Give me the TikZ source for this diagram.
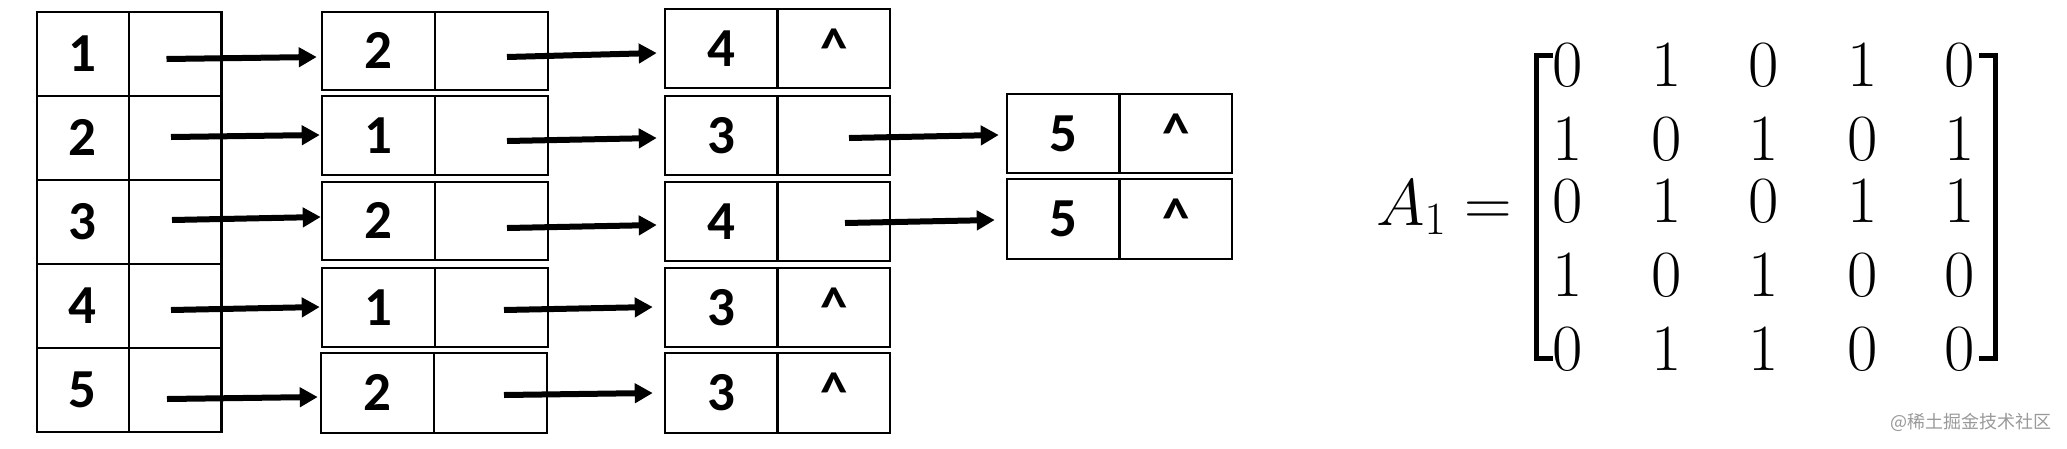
\documentclass[tikz,border=0pt]{standalone}
\usepackage{fix-cm}
\usepackage{fontspec}
\newfontfamily\boxfont{Carlito}
\newfontfamily\wmfont{Noto Sans CJK SC}
\usetikzlibrary{arrows.meta,calc}
\tikzset{
  x=1pt, y=-1pt,
  cellbox/.style={draw, line width=2.5pt, inner sep=0pt},
  cellline/.style={line width=2.5pt},
  celltext/.style={anchor=base, inner sep=0pt, font=\boxfont\bfseries\fontsize{55}{60}\selectfont},
  arr/.style={line width=6pt, -{Triangle[length=18pt,width=19pt]}},
  mtx/.style={anchor=base, inner sep=0pt, font=\fontsize{66}{70}\selectfont},
  brk/.style={line width=5pt, line join=miter},
}
% name, cx, cy, w, h, left text, right text
\newcommand\lbox[7]{%
  \node[cellbox, minimum width=#4pt, minimum height=#5pt] (#1) at (#2,#3) {};
  \draw[cellline] (#1.north) -- (#1.south);
  \node[celltext] at ($(#1.center)+({-#4/4},17.5)$) {#6};
  \node[celltext] at ($(#1.center)+({#4/4},17.5)$) {#7};
}
\begin{document}
\begin{tikzpicture}
\useasboundingbox (0,0) rectangle (2067,448);
% head array
\lbox{a1}{129}{54}{184.5}{84}{1}{}
\lbox{a2}{129}{138}{184.5}{84}{2}{}
\lbox{a3}{129}{222}{184.5}{84}{3}{}
\lbox{a4}{129}{306}{184.5}{84}{4}{}
\lbox{a5}{129}{390}{184.5}{84}{5}{}
% second column
\lbox{b1}{435}{51}{226}{78}{2}{}
\lbox{b2}{435}{135.5}{226}{79}{1}{}
\lbox{b3}{435}{221}{226}{78}{2}{}
\lbox{b4}{435}{307.5}{226}{79}{1}{}
\lbox{b5}{434}{393}{226}{80}{2}{}
% third column
\lbox{c1}{777.5}{48.7}{225}{79}{4}{\textasciicircum}
\lbox{c2}{777.5}{135.5}{225}{79}{3}{}
\lbox{c3}{777.5}{221.5}{225}{79}{4}{}
\lbox{c4}{777.5}{307.5}{225}{79}{3}{\textasciicircum}
\lbox{c5}{777.5}{393}{225}{80}{3}{\textasciicircum}
% fourth column
\lbox{d1}{1119.5}{133.5}{225}{79}{5}{\textasciicircum}
\lbox{d2}{1119.5}{219}{225}{80}{5}{\textasciicircum}
% arrows
\draw[arr] ($(a1.center)+(37.5,5)$) -- ($(b1.west)+(-4,6)$);
\draw[arr] ($(a2.center)+(42,-1)$) -- ($(b2.west)+(-1,-0.5)$);
\draw[arr] ($(a3.center)+(43,-2)$) -- ($(b3.west)+(0,-4)$);
\draw[arr] ($(a4.center)+(42,4)$) -- ($(b4.west)+(-1,-0.5)$);
\draw[arr] ($(a5.center)+(38,9)$) -- ($(b5.west)+(-2,4)$);
\draw[arr] ($(b1.center)+(72,6)$) -- ($(c1.west)+(-7,4.3)$);
\draw[arr] ($(b2.center)+(72,5.5)$) -- ($(c2.west)+(-7,2.5)$);
\draw[arr] ($(b3.center)+(72,7)$) -- ($(c3.west)+(-7,3.5)$);
\draw[arr] ($(b4.center)+(69,2.5)$) -- ($(c4.west)+(-11,-0.5)$);
\draw[arr] ($(b5.center)+(70,2)$) -- ($(c5.west)+(-11,0)$);
\draw[arr] ($(c2.center)+(71.5,2.5)$) -- ($(d1.west)+(-7,1.5)$);
\draw[arr] ($(c3.center)+(67.5,1.5)$) -- ($(d2.west)+(-11,1)$);
% matrix
\node[mtx, anchor=base west] (A) at (1376,225) {$A_1$};
\node[mtx] (eq) at (1488,225) {$=$};
\draw[brk] (1553,55) -- (1536.5,55) -- (1536.5,358) -- (1553,358);
\draw[brk] (1979,55) -- (1995.5,55) -- (1995.5,358) -- (1979,358);
\foreach \r/\yb/\row in {1/86/{0,1,0,1,0}, 2/160/{1,0,1,0,1}, 3/222/{0,1,0,1,1}, 4/296/{1,0,1,0,0}, 5/370/{0,1,1,0,0}}{
  \foreach \v [count=\c] in \row {
    \pgfmathsetmacro{\xx}{{1568,1667,1764,1863,1960}[\c-1]}
    \node[mtx] (m\r\c) at (\xx,\yb) {\v};
  }
}
% watermark
\node[inner sep=0pt, text=black!40, font=\wmfont\fontsize{18}{20}\selectfont] (wm) at (1971,422) {@稀土掘金技术社区};
\end{tikzpicture}
\end{document}
